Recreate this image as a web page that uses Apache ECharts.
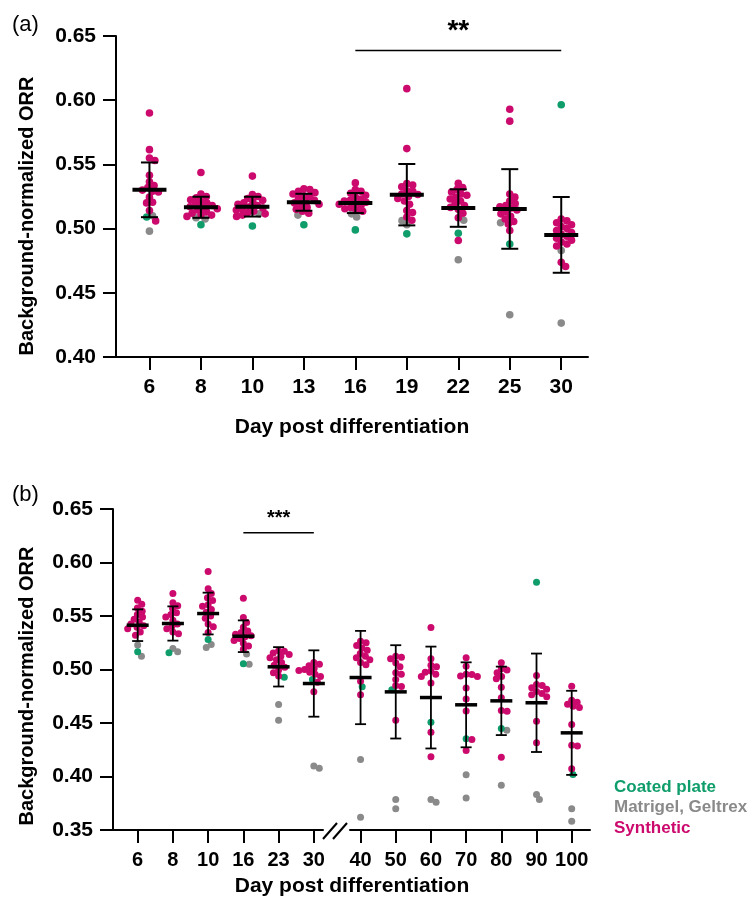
<!DOCTYPE html>
<html>
<head>
<meta charset="utf-8">
<script src="https://cdn.jsdelivr.net/npm/echarts@6/dist/echarts.min.js"></script>
<style>html,body{margin:0;padding:0;background:#fff}#main{width:754px;height:898px}</style>
</head>
<body>
<div id="main"></div>
<script>
// ---- panel (a) ----
const daysA = ['6', '8', '10', '13', '16', '19', '22', '25', '30'];
const synthA = [
  [0.590, 0.5615, 0.555, 0.553, 0.5415, 0.5365, 0.5335, 0.532, 0.530, 0.529, 0.5285, 0.5245, 0.5205, 0.520, 0.514, 0.506],
  [0.5437, 0.527, 0.525, 0.524, 0.5225, 0.521, 0.520, 0.519, 0.518, 0.517, 0.5165, 0.5155, 0.5145, 0.513, 0.512, 0.511, 0.5105, 0.5095],
  [0.5409, 0.5265, 0.525, 0.5235, 0.522, 0.521, 0.520, 0.519, 0.518, 0.517, 0.516, 0.5155, 0.5145, 0.5135, 0.5125, 0.5115, 0.5105, 0.5095],
  [0.531, 0.5305, 0.529, 0.528, 0.527, 0.5255, 0.525, 0.5235, 0.522, 0.521, 0.520, 0.519, 0.518, 0.5165, 0.515, 0.5135, 0.512],
  [0.5356, 0.5305, 0.529, 0.5275, 0.526, 0.5245, 0.523, 0.522, 0.5215, 0.5205, 0.5195, 0.519, 0.518, 0.5165, 0.5155, 0.5145, 0.5135],
  [0.609, 0.5623, 0.535, 0.534, 0.5325, 0.5295, 0.529, 0.527, 0.5265, 0.525, 0.5235, 0.5215, 0.519, 0.514, 0.5125, 0.509, 0.5065],
  [0.5352, 0.532, 0.5305, 0.5285, 0.527, 0.526, 0.5245, 0.523, 0.5215, 0.5195, 0.518, 0.5165, 0.515, 0.512, 0.5085, 0.4907],
  [0.593, 0.5837, 0.527, 0.5245, 0.5215, 0.5195, 0.518, 0.517, 0.516, 0.5145, 0.513, 0.5115, 0.5095, 0.5075, 0.5055, 0.5035, 0.4985],
  [0.5075, 0.506, 0.5045, 0.503, 0.5015, 0.500, 0.4985, 0.497, 0.4955, 0.494, 0.4925, 0.491, 0.4895, 0.488, 0.4865, 0.4737, 0.4705]
];
const coatedA = [[0.509], [0.503], [0.502], [0.503], [0.499], [0.4959], [0.4964], [0.488], [0.5964]];
const matrigelA = [[0.510, 0.498], [0.5085, 0.5075], [0.5115], [0.5105], [0.509, 0.5115], [0.5062, 0.503], [0.5065, 0.4757], [0.5045, 0.4329], [0.483, 0.4264]];
const meanA = [0.5302, 0.5166, 0.5171, 0.5205, 0.5199, 0.5264, 0.5160, 0.5153, 0.4951];
const sdA = [0.0213, 0.0082, 0.0077, 0.0066, 0.0078, 0.0239, 0.0146, 0.0310, 0.0295];
const sigA = [[4, 8, 0.6388, '**']];

// ---- panel (b) ----
const daysB = ['6', '8', '10', '16', '23', '30', '40', '50', '60', '70', '80', '90', '100'];
const breakAfter = 6; // axis break between day 30 and day 40
const synthB = [
  [0.5648, 0.561, 0.5575, 0.5545, 0.5515, 0.549, 0.547, 0.5445, 0.5425, 0.541, 0.5395, 0.538, 0.535, 0.532],
  [0.571, 0.5625, 0.5595, 0.557, 0.553, 0.5515, 0.549, 0.546, 0.5425, 0.5405, 0.538, 0.535, 0.5335],
  [0.5916, 0.5755, 0.571, 0.567, 0.5645, 0.5605, 0.5592, 0.556, 0.5535, 0.550, 0.548, 0.5425, 0.540, 0.5345],
  [0.5667, 0.5485, 0.544, 0.5395, 0.536, 0.5345, 0.533, 0.5315, 0.5305, 0.529, 0.527, 0.5245, 0.522, 0.519],
  [0.5175, 0.517, 0.5155, 0.514, 0.5125, 0.511, 0.509, 0.5065, 0.504, 0.502, 0.4995, 0.497, 0.494],
  [0.5065, 0.505, 0.5035, 0.502, 0.501, 0.500, 0.499, 0.4975, 0.4955, 0.4935, 0.488, 0.4791],
  [0.5265, 0.5249, 0.5225, 0.5202, 0.518, 0.515, 0.5125, 0.511, 0.509, 0.5065, 0.5045, 0.489, 0.4763],
  [0.5125, 0.5115, 0.510, 0.5062, 0.5025, 0.497, 0.4955, 0.4907, 0.485, 0.484, 0.4526],
  [0.5393, 0.510, 0.504, 0.5025, 0.4985, 0.4975, 0.4955, 0.4935, 0.4875, 0.4414, 0.4184],
  [0.5109, 0.503, 0.4955, 0.4953, 0.494, 0.4935, 0.4828, 0.4725, 0.4611, 0.4346, 0.4243],
  [0.5062, 0.5006, 0.4995, 0.4969, 0.4935, 0.4913, 0.4835, 0.4735, 0.4617, 0.461, 0.418],
  [0.4944, 0.486, 0.485, 0.4829, 0.4815, 0.4795, 0.4776, 0.4765, 0.4745, 0.4517, 0.4315],
  [0.4844, 0.4713, 0.4695, 0.4675, 0.4657, 0.4645, 0.4486, 0.4293, 0.4285, 0.4072]
];
const coatedB = [[0.5165], [0.5156], [0.528], [0.5053], [0.4928], [0.4907], [0.4838], [0.481], [0.4508], [0.4352], [0.4449], [0.5816], [0.4019]];
const matrigelB = [[0.523, 0.5124], [0.5196, 0.5165], [0.5206, 0.5234], [0.505, 0.5145], [0.4673, 0.4526], [0.4078, 0.4097], [0.4159, 0.362], [0.3785, 0.3698], [0.376, 0.3785], [0.4016, 0.380], [0.4433, 0.3919], [0.3832, 0.3785], [0.3698, 0.3582]];
const meanB = [0.5414, 0.543, 0.5523, 0.5311, 0.5025, 0.4869, 0.4925, 0.4791, 0.4738, 0.467, 0.4707, 0.4689, 0.4408];
const sdB = [0.0148, 0.016, 0.0195, 0.0148, 0.0184, 0.031, 0.0436, 0.0436, 0.0476, 0.0397, 0.032, 0.046, 0.0393];
const sigB = [[3, 5, 0.6278, '***']];

const groupNames = ['Coated plate', 'Matrigel, Geltrex', 'Synthetic'];
const COLORS = {'Coated plate': '#0F9D6B', 'Matrigel, Geltrex': '#8A8A8A', 'Synthetic': '#CC0A6E'};
const FONT = '"Liberation Sans", Arial, sans-serif';

var chart = echarts.init(document.getElementById('main'), null, {renderer: 'canvas'});

function xAx(gi, min, max, labels, fs) {
  const ticks = labels.map((d, i) => i);
  return {
    type: 'value', gridIndex: gi, min: min, max: max,
    splitLine: {show: false},
    axisLine: {onZero: false, lineStyle: {color: '#000', width: 2}},
    axisTick: {customValues: ticks, length: 13, lineStyle: {color: '#000', width: 2}},
    axisLabel: {customValues: ticks, margin: 20, color: '#000', fontFamily: FONT, fontWeight: 'bold', fontSize: fs,
      formatter: v => labels[Math.round(v)]}
  };
}
function yAx(gi, min, show) {
  return {
    type: 'value', gridIndex: gi, min: min, max: 0.65, interval: 0.05, show: show,
    splitLine: {show: false},
    axisLine: {show: true, onZero: false, lineStyle: {color: '#000', width: 2}},
    axisTick: {show: true, length: 13, lineStyle: {color: '#000', width: 2}},
    axisLabel: {margin: 20, color: '#000', fontFamily: FONT, fontWeight: 'bold', fontSize: 21,
      formatter: v => v.toFixed(2)}
  };
}

// mean line + SD whiskers
function errSeries(gi, means, sds, offset, meanHalf, capHalf, meanW, barW) {
  return {
    type: 'custom', xAxisIndex: gi, yAxisIndex: gi, z: 10, clip: false,
    data: means.map((m, i) => [i, m, sds[i + offset]]),
    renderItem: function (params, api) {
      const x = api.value(0), m = api.value(1), sd = api.value(2);
      const pm = api.coord([x, m]), pt = api.coord([x, m + sd]), pb = api.coord([x, m - sd]);
      const st = {stroke: '#000', lineWidth: barW};
      return {type: 'group', children: [
        {type: 'line', shape: {x1: pt[0], y1: pt[1], x2: pb[0], y2: pb[1]}, style: st},
        {type: 'line', shape: {x1: pt[0] - capHalf, y1: pt[1], x2: pt[0] + capHalf, y2: pt[1]}, style: st},
        {type: 'line', shape: {x1: pb[0] - capHalf, y1: pb[1], x2: pb[0] + capHalf, y2: pb[1]}, style: st},
        {type: 'line', shape: {x1: pm[0] - meanHalf, y1: pm[1], x2: pm[0] + meanHalf, y2: pm[1]}, style: {stroke: '#000', lineWidth: meanW}}
      ]};
    }
  };
}

function sigSeries(gi, sig, fontSize, textGap) {
  return {
    type: 'custom', xAxisIndex: gi, yAxisIndex: gi, z: 10, clip: false,
    data: sig.map(s => [s[0], s[1], s[2]]),
    renderItem: function (params, api) {
      const s = sig[params.dataIndex];
      const a = api.coord([s[0], s[2]]), b = api.coord([s[1], s[2]]);
      return {type: 'group', children: [
        {type: 'line', shape: {x1: a[0], y1: a[1], x2: b[0], y2: b[1]}, style: {stroke: '#000', lineWidth: 1.5}},
        {type: 'text', x: (a[0] + b[0]) / 2, y: a[1] - textGap,
          style: {text: s[3], font: 'bold ' + fontSize + 'px ' + FONT, fill: '#000', align: 'center', verticalAlign: 'middle'}}
      ]};
    }
  };
}

function txt(x, y, text, size, weight, color, align, rot) {
  return {
    type: 'text', x: x, y: y, rotation: rot || 0,
    style: {text: text, font: weight + ' ' + size + 'px ' + FONT, fill: color || '#000', align: align || 'center', verticalAlign: 'middle'}
  };
}

const option = {
  animation: false,
  grid: [
    {left: 116, top: 36, width: 472, height: 321, outerBoundsMode: 'none'},
    {left: 113, top: 509, width: 210, height: 321, outerBoundsMode: 'none'},
    {left: 350, top: 509, width: 240, height: 321, outerBoundsMode: 'none'}
  ],
  xAxis: [
    Object.assign(xAx(0, -0.65, 8.52, daysA, 21), {
      name: 'Day post differentiation', nameLocation: 'middle', nameGap: 60,
      nameTextStyle: {color: '#000', fontFamily: FONT, fontWeight: 'bold', fontSize: 21}
    }),
    xAx(1, -0.7, 5.26, daysB.slice(0, breakAfter), 20),
    xAx(2, -0.30, 6.52, daysB.slice(breakAfter), 20)
  ],
  yAxis: [yAx(0, 0.40, true), yAx(1, 0.35, true), Object.assign(yAx(2, 0.35, false), {show: false})],
  graphic: [
    txt(12, 25, '(a)', 22, 'normal', '#000', 'left'),
    txt(12, 495, '(b)', 22, 'normal', '#000', 'left'),
    txt(27, 216, 'Background-normalized ORR', 20, 'bold', '#000', 'center', Math.PI / 2),
    txt(27, 686, 'Background-normalized ORR', 20, 'bold', '#000', 'center', Math.PI / 2),
    txt(352, 886, 'Day post differentiation', 21, 'bold'),
    // axis break marks
    {type: 'line', shape: {x1: 323, y1: 839, x2: 337, y2: 823}, style: {stroke: '#000', lineWidth: 2}},
    {type: 'line', shape: {x1: 333, y1: 839, x2: 347, y2: 823}, style: {stroke: '#000', lineWidth: 2}}
  ].concat(groupNames.map((g, i) => txt(614, 787 + i * 20.5, g, 17, 'bold', COLORS[g], 'left'))),
  series: []
};
chart.setOption(option);

// beeswarm offsets in pixel space, converted back to axis units
function swarm(points, pxX, pxY, d) {
  const placed = [];
  const order = points.map((p, i) => i).sort((a, b) => points[b].v - points[a].v);
  order.forEach(i => {
    const y = points[i].v * pxY;
    const near = placed.filter(p => Math.abs(p.y - y) < d);
    const cands = [0];
    near.forEach(p => {
      const w = Math.sqrt(d * d - (p.y - y) * (p.y - y));
      cands.push(p.x + w, p.x - w);
    });
    cands.sort((a, b) => Math.abs(a) - Math.abs(b));
    const x = cands.find(c => near.every(p => (p.x - c) * (p.x - c) + (p.y - y) * (p.y - y) >= d * d - 0.01));
    placed.push({x: x, y: y});
    points[i].dx = x / pxX;
  });
}

function scatterFor(gi, synth, coated, matrigel, d, size) {
  const a = chart.convertToPixel({gridIndex: gi}, [0, 0.5]);
  const b = chart.convertToPixel({gridIndex: gi}, [1, 0.6]);
  const pxX = b[0] - a[0], pxY = (a[1] - b[1]) * 10;
  const buckets = {'Coated plate': [], 'Matrigel, Geltrex': [], 'Synthetic': []};
  synth.forEach((vals, i) => {
    const pts = [];
    coated[i].forEach(v => pts.push({v: v, g: 'Coated plate'}));
    matrigel[i].forEach(v => pts.push({v: v, g: 'Matrigel, Geltrex'}));
    vals.forEach(v => pts.push({v: v, g: 'Synthetic'}));
    swarm(pts, pxX, pxY, d);
    pts.forEach(p => buckets[p.g].push([i + p.dx, p.v]));
  });
  return ['Matrigel, Geltrex', 'Coated plate', 'Synthetic'].map(g => ({
    type: 'scatter', name: g, xAxisIndex: gi, yAxisIndex: gi, symbolSize: size, z: 3,
    itemStyle: {color: COLORS[g], opacity: 1}, data: buckets[g]
  }));
}

const series = []
  .concat(scatterFor(0, synthA, coatedA, matrigelA, 6, 7.6))
  .concat(scatterFor(1, synthB.slice(0, breakAfter), coatedB.slice(0, breakAfter), matrigelB.slice(0, breakAfter), 5.8, 7))
  .concat(scatterFor(2, synthB.slice(breakAfter), coatedB.slice(breakAfter), matrigelB.slice(breakAfter), 5.8, 7))
  .concat([
    errSeries(0, meanA, sdA, 0, 17, 8.5, 4, 2),
    errSeries(1, meanB.slice(0, breakAfter), sdB, 0, 11, 5.5, 3.5, 1.8),
    errSeries(2, meanB.slice(breakAfter), sdB, breakAfter, 11, 5.5, 3.5, 1.8),
    sigSeries(0, sigA, 28, 19),
    sigSeries(1, sigB, 20, 14)
  ]);
chart.setOption({series: series});
</script>
</body>
</html>
